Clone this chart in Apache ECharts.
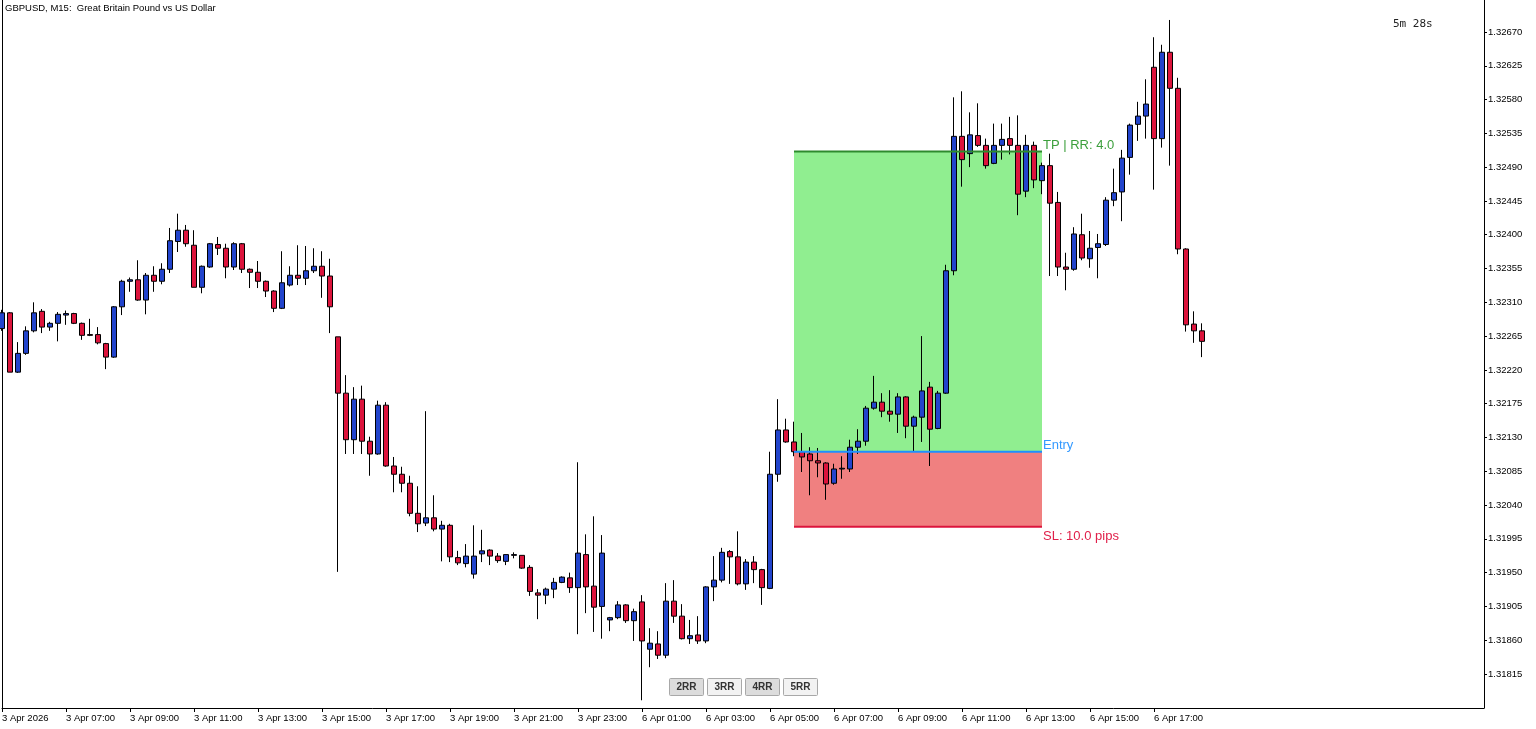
<!DOCTYPE html>
<html><head><meta charset="utf-8">
<script src="https://cdn.jsdelivr.net/npm/echarts@6.0.0/dist/echarts.min.js"></script>
<style>html,body{margin:0;padding:0;background:#fff;}#chart{width:1536px;height:729px;}</style>
</head><body><div id="chart"></div>
<script>
const timeLabels = ["3 Apr 2026","3 Apr 07:00","3 Apr 09:00","3 Apr 11:00","3 Apr 13:00","3 Apr 15:00","3 Apr 17:00","3 Apr 19:00","3 Apr 21:00","3 Apr 23:00","6 Apr 01:00","6 Apr 03:00","6 Apr 05:00","6 Apr 07:00","6 Apr 09:00","6 Apr 11:00","6 Apr 13:00","6 Apr 15:00","6 Apr 17:00"];
const priceTicks = [1.31815,1.31860,1.31905,1.31950,1.31995,1.32040,1.32085,1.32130,1.32175,1.32220,1.32265,1.32310,1.32355,1.32400,1.32445,1.32490,1.32535,1.32580,1.32625,1.32670];

const openP = [1.32275,1.32296,1.32217,1.32242,1.32272,1.32298,1.32277,1.32282,1.32293,1.32295,
1.32282,1.32267,1.32267,1.32255,1.32237,1.32304,1.32338,1.32340,1.32313,1.32346,
1.32338,1.32354,1.32391,1.32406,1.32386,1.32330,1.32357,1.32387,1.32382,1.32357,
1.32388,1.32354,1.32350,1.32338,1.32325,1.32302,1.32333,1.32346,1.32342,1.32352,
1.32358,1.32345,1.32264,1.32189,1.32127,1.32181,1.32125,1.32108,1.32173,1.32092,
1.32081,1.32069,1.32029,1.32016,1.32023,1.32008,1.32013,1.31970,1.31962,1.31948,
1.31975,1.31980,1.31972,1.31965,1.31973,1.31973,1.31957,1.31923,1.31920,1.31928,
1.31937,1.31943,1.31930,1.31974,1.31932,1.31905,1.31887,1.31890,1.31907,1.31886,
1.31911,1.31848,1.31855,1.31840,1.31912,1.31892,1.31862,1.31867,1.31859,1.31931,
1.31940,1.31978,1.31971,1.31935,1.31964,1.31954,1.31929,1.32081,1.32140,1.32124,
1.32111,1.32108,1.32099,1.32096,1.32069,1.32088,1.32088,1.32117,1.32125,1.32169,
1.32177,1.32165,1.32161,1.32184,1.32145,1.32157,1.32197,1.32142,1.32189,1.32352,
1.32531,1.32508,1.32532,1.32519,1.32495,1.32519,1.32528,1.32519,1.32458,1.32519,
1.32472,1.32492,1.32443,1.32357,1.32354,1.32400,1.32368,1.32383,1.32387,1.32446,
1.32457,1.32503,1.32547,1.32558,1.32623,1.32528,1.32643,1.32595,1.32381,1.32281,
1.32272];
const closeP = [1.32296,1.32217,1.32242,1.32272,1.32296,1.32277,1.32282,1.32294,1.32295,1.32282,
1.32266,1.32266,1.32256,1.32237,1.32304,1.32338,1.32340,1.32313,1.32346,1.32338,
1.32354,1.32392,1.32406,1.32388,1.32330,1.32358,1.32388,1.32382,1.32357,1.32388,
1.32354,1.32350,1.32338,1.32325,1.32302,1.32336,1.32346,1.32342,1.32352,1.32358,
1.32345,1.32304,1.32189,1.32127,1.32181,1.32125,1.32108,1.32173,1.32092,1.32081,
1.32069,1.32029,1.32015,1.32023,1.32008,1.32013,1.31971,1.31963,1.31972,1.31972,
1.31979,1.31972,1.31966,1.31974,1.31974,1.31956,1.31925,1.31920,1.31928,1.31937,
1.31944,1.31930,1.31976,1.31931,1.31904,1.31976,1.31890,1.31907,1.31886,1.31898,
1.31859,1.31856,1.31840,1.31912,1.31892,1.31862,1.31866,1.31859,1.31931,1.31940,
1.31977,1.31971,1.31935,1.31964,1.31954,1.31930,1.32081,1.32140,1.32124,1.32111,
1.32104,1.32099,1.32096,1.32068,1.32088,1.32089,1.32117,1.32125,1.32169,1.32177,
1.32165,1.32161,1.32184,1.32145,1.32157,1.32192,1.32141,1.32189,1.32352,1.32531,
1.32500,1.32533,1.32519,1.32492,1.32519,1.32527,1.32519,1.32454,1.32519,1.32473,
1.32492,1.32442,1.32357,1.32354,1.32401,1.32369,1.32382,1.32388,1.32446,1.32456,
1.32502,1.32546,1.32558,1.32574,1.32528,1.32643,1.32595,1.32381,1.32280,1.32272,
1.32258];
const lowP = [1.32272,1.32217,1.32216,1.32240,1.32270,1.32269,1.32272,1.32258,1.32280,1.32281,
1.32260,1.32265,1.32254,1.32221,1.32236,1.32293,1.32324,1.32312,1.32294,1.32324,
1.32334,1.32349,1.32377,1.32384,1.32330,1.32322,1.32356,1.32373,1.32342,1.32353,
1.32349,1.32329,1.32329,1.32317,1.32297,1.32301,1.32331,1.32333,1.32333,1.32349,
1.32316,1.32269,1.31951,1.32108,1.32108,1.32108,1.32079,1.32107,1.32091,1.32057,
1.32057,1.32025,1.32004,1.32012,1.32005,1.31965,1.31964,1.31960,1.31957,1.31942,
1.31964,1.31960,1.31963,1.31960,1.31969,1.31955,1.31919,1.31888,1.31908,1.31916,
1.31936,1.31923,1.31868,1.31896,1.31871,1.31862,1.31872,1.31888,1.31883,1.31859,
1.31780,1.31824,1.31835,1.31836,1.31883,1.31861,1.31855,1.31855,1.31856,1.31912,
1.31937,1.31935,1.31933,1.31927,1.31936,1.31907,1.31928,1.32071,1.32123,1.32105,
1.32084,1.32053,1.32077,1.32047,1.32067,1.32075,1.32084,1.32108,1.32119,1.32167,
1.32157,1.32151,1.32136,1.32129,1.32112,1.32124,1.32092,1.32141,1.32188,1.32346,
1.32464,1.32490,1.32517,1.32488,1.32494,1.32500,1.32507,1.32426,1.32450,1.32462,
1.32454,1.32345,1.32345,1.32326,1.32352,1.32366,1.32356,1.32342,1.32385,1.32438,
1.32418,1.32480,1.32525,1.32528,1.32460,1.32516,1.32492,1.32374,1.32271,1.32256,
1.32237];
const highP = [1.32300,1.32297,1.32257,1.32278,1.32310,1.32301,1.32284,1.32297,1.32299,1.32296,
1.32283,1.32288,1.32277,1.32256,1.32305,1.32340,1.32343,1.32366,1.32349,1.32358,
1.32362,1.32409,1.32428,1.32413,1.32406,1.32359,1.32389,1.32397,1.32388,1.32390,
1.32389,1.32355,1.32365,1.32339,1.32326,1.32378,1.32358,1.32386,1.32385,1.32382,
1.32378,1.32368,1.32264,1.32213,1.32197,1.32199,1.32131,1.32179,1.32177,1.32104,
1.32091,1.32079,1.32065,1.32165,1.32053,1.32019,1.32015,1.31979,1.31988,1.32013,
1.32007,1.31981,1.31976,1.31974,1.31977,1.31973,1.31960,1.31928,1.31930,1.31943,
1.31945,1.31950,1.32097,1.32001,1.32025,1.32000,1.31891,1.31912,1.31908,1.31902,
1.31920,1.31876,1.31872,1.31936,1.31940,1.31908,1.31887,1.31892,1.31932,1.31972,
1.31983,1.31980,1.32005,1.31968,1.31972,1.31955,1.32111,1.32181,1.32155,1.32151,
1.32136,1.32117,1.32116,1.32097,1.32095,1.32105,1.32127,1.32141,1.32172,1.32212,
1.32189,1.32193,1.32189,1.32185,1.32159,1.32265,1.32204,1.32192,1.32360,1.32583,
1.32591,1.32563,1.32575,1.32528,1.32548,1.32548,1.32557,1.32559,1.32533,1.32524,
1.32496,1.32508,1.32457,1.32376,1.32410,1.32428,1.32405,1.32401,1.32450,1.32488,
1.32513,1.32548,1.32577,1.32607,1.32663,1.32653,1.32686,1.32609,1.32382,1.32298,
1.32282];

const entryPrice = 1.32111;
const stopPrice = 1.32011;
const takePrice = 1.32511;
const posStart = 99;
const posEnd = 130;
const rrButtons = ["2RR", "3RR", "4RR", "5RR"];
const symbolTitle = "GBPUSD, M15:  Great Britain Pound vs US Dollar";
const timerText = "5m 28s";

const FONT = '"Liberation Sans", Arial, sans-serif';
const candles = openP.map((o, i) => [i, o, closeP[i], lowP[i], highP[i]]);
const labelTickValues = timeLabels.map((_, k) => k * 8);
const pipsRisk = Math.round((entryPrice - stopPrice) * 100000) / 10;
const rr = (takePrice - entryPrice) / (entryPrice - stopPrice);

function renderBoxes(params, api) {
  const a = api.coord([api.value(0), api.value(3)]);
  const b = api.coord([api.value(1), api.value(2)]);
  const c = api.coord([api.value(1), api.value(4)]);
  return { type: 'group', children: [
    { type: 'rect', shape: { x: a[0], y: a[1], width: b[0] - a[0], height: b[1] - a[1] }, style: { fill: '#90ee90' } },
    { type: 'rect', shape: { x: a[0], y: b[1], width: b[0] - a[0], height: c[1] - b[1] }, style: { fill: '#f08080' } }
  ]};
}
function renderLines(params, api) {
  const a = api.coord([api.value(0), api.value(3)]);
  const b = api.coord([api.value(1), api.value(2)]);
  const c = api.coord([api.value(1), api.value(4)]);
  const x0 = a[0], x1 = b[0];
  const f = '13px ' + FONT;
  return { type: 'group', children: [
    { type: 'line', shape: { x1: x0, y1: a[1], x2: x1, y2: a[1] }, style: { stroke: '#2e8b2e', lineWidth: 2 } },
    { type: 'line', shape: { x1: x0, y1: b[1], x2: x1, y2: b[1] }, style: { stroke: '#1e90ff', lineWidth: 2 } },
    { type: 'line', shape: { x1: x0, y1: c[1], x2: x1, y2: c[1] }, style: { stroke: '#dc143c', lineWidth: 2 } },
    { type: 'text', x: x1 + 1, y: a[1] - 6, style: { text: 'TP | RR: ' + rr.toFixed(1), fill: '#3c9f3c', font: f, align: 'left', verticalAlign: 'middle' } },
    { type: 'text', x: x1 + 1, y: b[1] - 6, style: { text: 'Entry', fill: '#3399ff', font: f, align: 'left', verticalAlign: 'middle' } },
    { type: 'text', x: x1 + 1, y: c[1] + 10, style: { text: 'SL: ' + pipsRisk.toFixed(1) + ' pips', fill: '#e0204a', font: f, align: 'left', verticalAlign: 'middle' } }
  ]};
}

const buttonGraphics = rrButtons.map((t, k) => ({
  type: 'group', left: 669 + k * 38, top: 678,
  children: [
    { type: 'rect', shape: { x: 0.5, y: 0.5, width: 34, height: 17, r: 1 }, style: { fill: (k % 2 === 0) ? '#dcdcdc' : '#f2f2f2', stroke: '#a8a8a8', lineWidth: 1 } },
    { type: 'text', x: 17.5, y: 9.5, style: { text: t, font: 'bold 10px ' + FONT, fill: '#333', align: 'center', verticalAlign: 'middle' } }
  ]
}));

const chart = echarts.init(document.getElementById('chart'), null, { renderer: 'canvas' });
chart.setOption({
  animation: false,
  backgroundColor: '#ffffff',
  grid: { left: 2, right: 52, top: 0, bottom: 21, containLabel: false, outerBoundsMode: 'none' },
  xAxis: {
    type: 'value', min: 0, max: 185.25,
    axisLine: { show: true, onZero: false, lineStyle: { color: '#000', width: 1 } },
    axisTick: { show: true, length: 4, customValues: labelTickValues, lineStyle: { color: '#000' } },
    axisLabel: { show: true, customValues: labelTickValues, align: 'left', margin: 5, color: '#000', fontSize: 9.5, fontFamily: FONT,
      formatter: v => timeLabels[Math.round(v / 8)] || '' },
    splitLine: { show: false }
  },
  yAxis: [{
    type: 'value', position: 'right', min: 1.317697, max: 1.327126, scale: true,
    axisLine: { show: true, onZero: false, lineStyle: { color: '#000', width: 1 } },
    axisTick: { show: true, length: 3, customValues: priceTicks, lineStyle: { color: '#000' } },
    axisLabel: { show: true, customValues: priceTicks, margin: 4, color: '#000', fontSize: 9.5, fontFamily: FONT,
      formatter: v => v.toFixed(5) },
    splitLine: { show: false }
  }, {
    type: 'value', position: 'left', min: 1.317697, max: 1.327126, scale: true,
    axisLine: { show: true, onZero: false, lineStyle: { color: '#000', width: 1 } },
    axisTick: { show: false }, axisLabel: { show: false }, splitLine: { show: false }
  }],
  series: [
    { type: 'custom', name: 'zones', z: 1, renderItem: renderBoxes, silent: true,
      data: [[posStart, posEnd, entryPrice, takePrice, stopPrice]] },
    { type: 'candlestick', name: 'GBPUSD', z: 3, data: candles, barWidth: 5, silent: true,
      itemStyle: { color: '#2244cc', color0: '#dc143c', borderColor: '#000', borderColor0: '#000', borderColorDoji: '#000', borderWidth: 1 } },
    { type: 'custom', name: 'levels', z: 5, renderItem: renderLines, silent: true,
      data: [[posStart, posEnd, entryPrice, takePrice, stopPrice]] }
  ],
  graphic: [
    { type: 'text', left: 5, top: 3, style: { text: symbolTitle, font: '9.5px ' + FONT, fill: '#000' } },
    { type: 'text', left: 1393, top: 19, style: { text: timerText, font: '11px "DejaVu Sans Mono", monospace', fill: '#222' } }
  ].concat(buttonGraphics)
});
</script>
</body></html>
